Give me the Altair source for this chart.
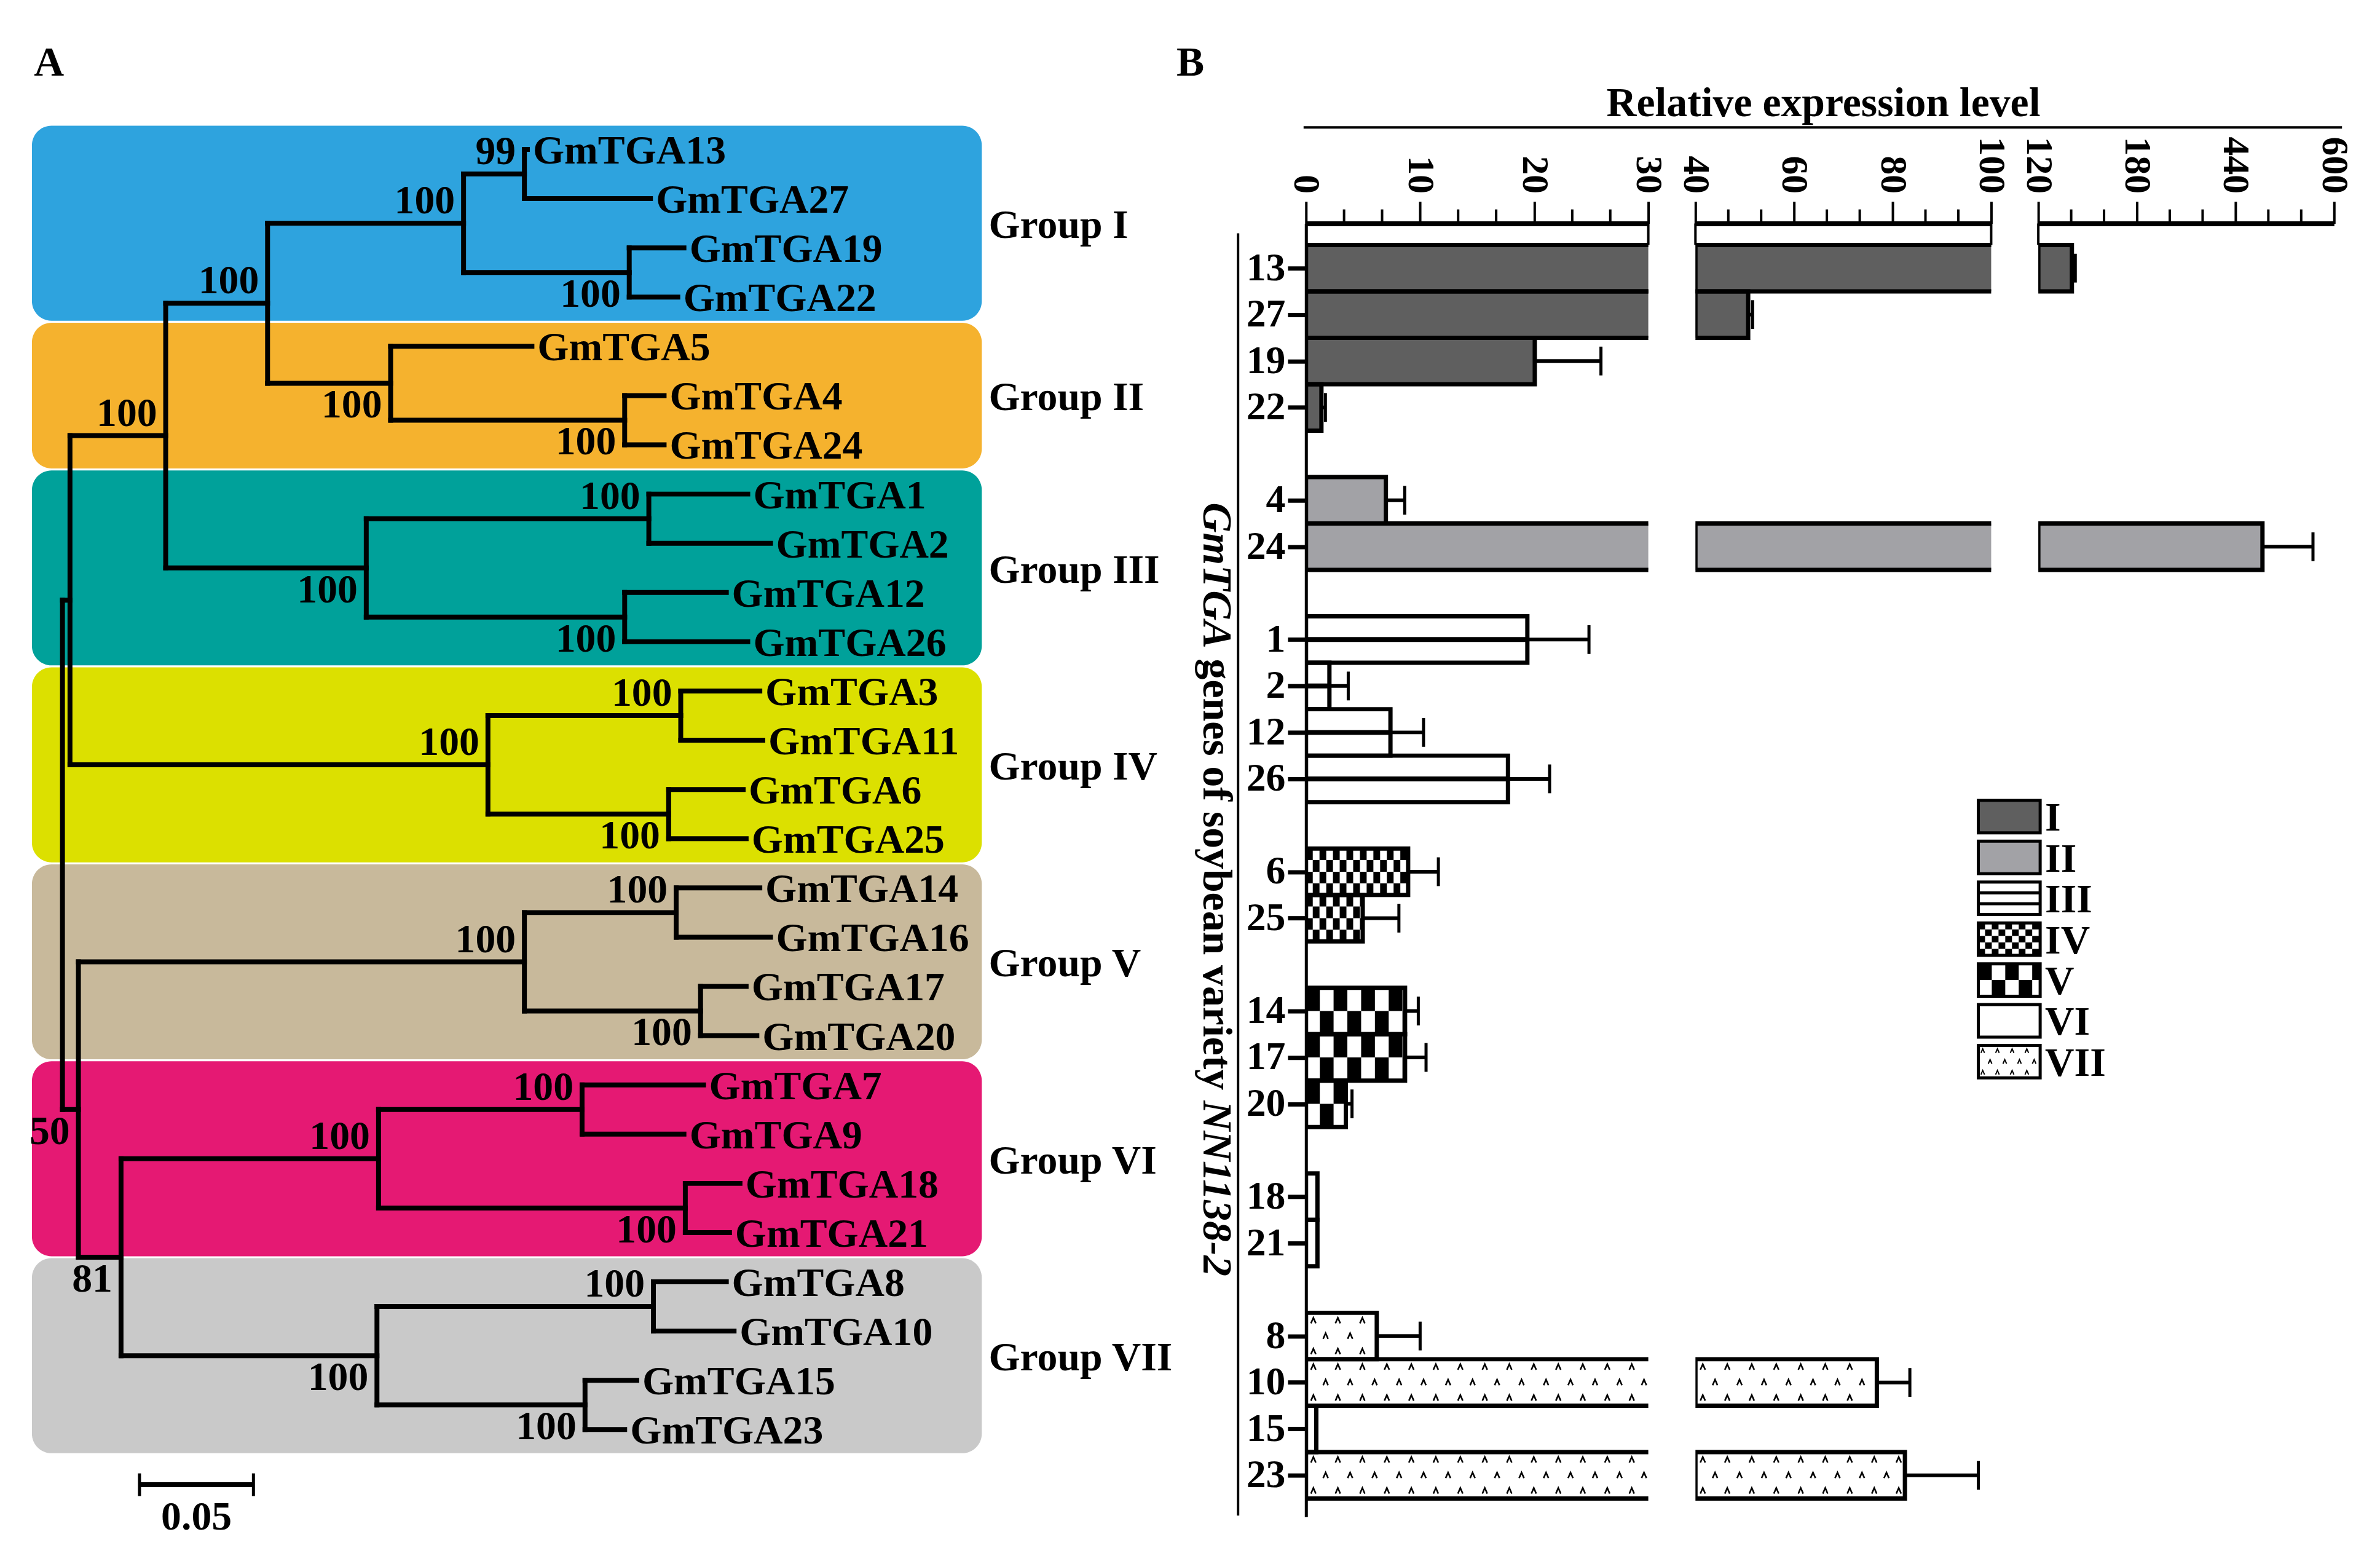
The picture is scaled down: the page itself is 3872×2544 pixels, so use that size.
import pandas as pd
import altair as alt

FONT = "Liberation Serif"

# ======================= Panel A : phylogenetic tree =======================
LEAVES = ["GmTGA13", "GmTGA27", "GmTGA19", "GmTGA22", "GmTGA5", "GmTGA4", "GmTGA24",
          "GmTGA1", "GmTGA2", "GmTGA12", "GmTGA26", "GmTGA3", "GmTGA11", "GmTGA6",
          "GmTGA25", "GmTGA14", "GmTGA16", "GmTGA17", "GmTGA20", "GmTGA7", "GmTGA9",
          "GmTGA18", "GmTGA21", "GmTGA8", "GmTGA10", "GmTGA15", "GmTGA23"]
LEAF_DEPTH = [0.2040, 0.2580, 0.2727, 0.2700, 0.2060, 0.2640, 0.2640,
              0.3007, 0.3107, 0.2913, 0.3007, 0.3060, 0.3073, 0.2987,
              0.3000, 0.3060, 0.3107, 0.3000, 0.3047, 0.2813, 0.2727,
              0.2973, 0.2927, 0.2913, 0.2947, 0.2520, 0.2467]
NODES = ["n13_27", "n19_22", "nI", "n4_24", "nII", "nI_II", "n1_2", "n12_26", "nIII",
         "nI_III", "n3_11", "n6_25", "nIV", "nI_IV", "n14_16", "n17_20", "nV", "n7_9",
         "n18_21", "nVI", "n8_10", "n15_23", "nVII", "nVI_VII", "nV_VII", "root"]
NODE_CHILDREN = [("GmTGA13", "GmTGA27"), ("GmTGA19", "GmTGA22"), ("n13_27", "n19_22"),
                 ("GmTGA4", "GmTGA24"), ("GmTGA5", "n4_24"), ("nI", "nII"),
                 ("GmTGA1", "GmTGA2"), ("GmTGA12", "GmTGA26"), ("n1_2", "n12_26"),
                 ("nI_II", "nIII"), ("GmTGA3", "GmTGA11"), ("GmTGA6", "GmTGA25"),
                 ("n3_11", "n6_25"), ("nI_III", "nIV"), ("GmTGA14", "GmTGA16"),
                 ("GmTGA17", "GmTGA20"), ("n14_16", "n17_20"), ("GmTGA7", "GmTGA9"),
                 ("GmTGA18", "GmTGA21"), ("n7_9", "n18_21"), ("GmTGA8", "GmTGA10"),
                 ("GmTGA15", "GmTGA23"), ("n8_10", "n15_23"), ("nVI", "nVII"),
                 ("nV", "nVI_VII"), ("nI_IV", "nV_VII")]
NODE_DEPTH = [0.2027, 0.2487, 0.1760, 0.2467, 0.1440, 0.0900, 0.2573, 0.2467, 0.1333,
              0.0453, 0.2713, 0.2660, 0.1867, 0.0033, 0.2693, 0.2800, 0.2027, 0.2280,
              0.2733, 0.1387, 0.2593, 0.2293, 0.1380, 0.0257, 0.0070, 0.0]
NODE_BOOT = ["99", "100", "100", "100", "100", "100", "100", "100", "100",
             "100", "100", "100", "100", "", "100", "100", "100", "100",
             "100", "100", "100", "100", "100", "81", "50", ""]
NODE_SIDE = ["above", "below", "above", "below", "below", "above", "above", "below", "below",
             "above", "above", "below", "above", "", "above", "below", "above", "above",
             "below", "above", "above", "below", "below", "below", "below", ""]
GROUP_LABELS = ["Group I", "Group II", "Group III", "Group IV", "Group V", "Group VI", "Group VII"]
GROUP_FIRST = ["GmTGA13", "GmTGA5", "GmTGA1", "GmTGA3", "GmTGA14", "GmTGA7", "GmTGA8"]
GROUP_LAST = ["GmTGA22", "GmTGA24", "GmTGA26", "GmTGA25", "GmTGA20", "GmTGA21", "GmTGA23"]
GROUP_COLORS = ["#2ea3de", "#f5b22e", "#00a19a", "#dce000", "#c8b99b", "#e51973", "#c9c9c9"]
SCALE_BAR_LEN = 0.05
SCALE_BAR_TEXT = "0.05"

# ======================= Panel B : expression bars =======================
GENES = ["13", "27", "19", "22", "4", "24", "1", "2", "12", "26", "6", "25",
         "14", "17", "20", "18", "21", "8", "10", "15", "23"]
GENE_GROUP = ["I", "I", "I", "I", "II", "II", "III", "III", "III", "III", "IV", "IV",
              "V", "V", "V", "VI", "VI", "VII", "VII", "VII", "VII"]
EXPR = [174.5, 50.7, 20.05, 1.35, 7.0, 483.8, 19.4, 2.05, 7.4, 17.7, 8.95, 4.97,
        8.68, 8.68, 3.49, 1.0, 1.0, 6.2, 76.8, 0.9, 82.5]
SD = [5.5, 0.9, 5.8, 0.35, 1.65, 82.0, 5.4, 1.65, 2.9, 3.65, 2.65, 3.17,
      1.16, 1.84, 0.54, 0.0, 0.0, 3.8, 6.7, 0.0, 14.9]
ROMAN = ["I", "II", "III", "IV", "V", "VI", "VII"]
BAR_FILLS = ["#5f5f5f", "#a2a2a6", "#ffffff", "#ffffff", "#ffffff", "#ffffff", "#ffffff"]
SEG_LO = [0, 40, 120]
SEG_HI = [30, 100, 600]
SEG_MAJOR = [[0, 10, 20, 30], [40, 60, 80, 100], [120, 280, 440, 600]]
SEG_MAJOR_TEXT = [["0", "10", "20", "30"], ["40", "60", "80", "100"], ["120", "180", "440", "600"]]
X_TITLE = "Relative expression level"
Y_TITLE_PARTS = ["GmTGA", "genes of soybean variety", "NN1138-2"]

# ======================= layout / style constants =======================
A_W, A_H = 1955, 2520
A_XDOM = [-0.02525, 0.5]
A_YDOM = [-2.873, 28.47]
BOX_X = [-0.0134, 0.4034]
BOX_GAP = 0.02
GROUP_LABEL_X = 0.4064
SB_X0, SB_Y = 0.0338, 27.12

HEADER_W, HEADER_H, HEADER_GAP = 1679, 300, 52
SEG_W = [559, 483, 483]
SEG_H = 2112
SEG_SPACING = 77
AB_SPACING = 170
PAD_TOP, PAD_BOT = 0.462, 0.396
PAGE_OFF = 8
SEG_TOP_PAGE = PAGE_OFF + HEADER_H + HEADER_GAP
SEG_LEFT_PAGE = [PAGE_OFF + A_W + AB_SPACING]
SEG_LEFT_PAGE.append(SEG_LEFT_PAGE[0] + SEG_W[0] + SEG_SPACING)
SEG_LEFT_PAGE.append(SEG_LEFT_PAGE[1] + SEG_W[1] + SEG_SPACING)
FILL_OF = dict(zip(ROMAN, BAR_FILLS))
BOX_FILL_OF = dict(zip(GROUP_LABELS, GROUP_COLORS))

# ---------------------------------------------------------------- tree geometry
ypos = {n: float(i) for i, n in enumerate(LEAVES)}
depth = dict(zip(LEAVES, LEAF_DEPTH))
parent = {}
for n, ch, d in zip(NODES, NODE_CHILDREN, NODE_DEPTH):
    ypos[n] = (ypos[ch[0]] + ypos[ch[1]]) / 2
    depth[n] = d
    for c in ch:
        parent[c] = n

tree_segs = []
for n, p in parent.items():
    tree_segs.append(dict(x=depth[p], x2=depth[n], y=ypos[n], y2=ypos[n]))
for n, ch in zip(NODES, NODE_CHILDREN):
    tree_segs.append(dict(x=depth[n], x2=depth[n], y=ypos[ch[0]], y2=ypos[ch[1]]))
tree_df = pd.DataFrame(tree_segs)

leaf_df = pd.DataFrame(dict(name=LEAVES, x=LEAF_DEPTH, y=[ypos[n] for n in LEAVES]))
boot_df = pd.DataFrame(dict(t=NODE_BOOT, side=NODE_SIDE, x=NODE_DEPTH, y=[ypos[n] for n in NODES]))
boot_df = boot_df[boot_df.t != ""]

box_df = pd.DataFrame([dict(group=g, col=BOX_FILL_OF[g], x0=BOX_X[0], x1=BOX_X[1],
                            y0=ypos[f] - 0.5 + BOX_GAP, y1=ypos[l] + 0.5 - BOX_GAP,
                            ym=(ypos[f] + ypos[l]) / 2, lx=GROUP_LABEL_X)
                       for g, f, l in zip(GROUP_LABELS, GROUP_FIRST, GROUP_LAST)])

XA = alt.Scale(domain=A_XDOM, nice=False, zero=False)
YA = alt.Scale(domain=A_YDOM, nice=False, zero=False, reverse=True)


def AX(f):
    return alt.X(f, type="quantitative", scale=XA, axis=None)


def AY(f):
    return alt.Y(f, type="quantitative", scale=YA, axis=None)


txt = dict(font=FONT, fontWeight="bold", color="black")

a_layers = [
    alt.Chart(box_df).mark_rect(cornerRadius=32).encode(
        x=AX("x0"), x2="x1:Q", y=AY("y0"), y2="y1:Q",
        fill=alt.Fill("col:N", scale=None)),
    alt.Chart(tree_df).mark_rule(color="black", strokeWidth=8, strokeCap="square").encode(
        x=AX("x"), x2="x2:Q", y=AY("y"), y2="y2:Q"),
    alt.Chart(leaf_df).mark_text(align="left", baseline="middle", dx=9, dy=3, fontSize=66, **txt).encode(
        x=AX("x"), y=AY("y"), text="name:N"),
    alt.Chart(boot_df[boot_df.side == "above"]).mark_text(
        align="right", baseline="alphabetic", dx=-14, dy=-16, fontSize=66, **txt).encode(
        x=AX("x"), y=AY("y"), text="t:N"),
    alt.Chart(boot_df[boot_df.side == "below"]).mark_text(
        align="right", baseline="alphabetic", dx=-14, dy=56, fontSize=66, **txt).encode(
        x=AX("x"), y=AY("y"), text="t:N"),
    alt.Chart(box_df).mark_text(align="left", baseline="middle", dy=4, fontSize=66, **txt).encode(
        x=AX("lx"), y=AY("ym"), text="group:N"),
]

sb_df = pd.DataFrame([dict(x0=SB_X0, x1=SB_X0 + SCALE_BAR_LEN, y=SB_Y,
                           xm=SB_X0 + SCALE_BAR_LEN / 2, yt=SB_Y + 0.91, t=SCALE_BAR_TEXT)])
sb_end_df = pd.DataFrame(dict(x=[SB_X0, SB_X0 + SCALE_BAR_LEN], ya=[SB_Y - 0.23] * 2, yb=[SB_Y + 0.23] * 2))
a_layers += [
    alt.Chart(sb_df).mark_rule(color="black", strokeWidth=8).encode(x=AX("x0"), x2="x1:Q", y=AY("y")),
    alt.Chart(sb_end_df).mark_rule(color="black", strokeWidth=5).encode(x=AX("x"), y=AY("ya"), y2="yb:Q"),
    alt.Chart(sb_df).mark_text(align="center", baseline="alphabetic", fontSize=66, **txt).encode(
        x=AX("xm"), y=AY("yt"), text="t:N"),
    alt.Chart(pd.DataFrame(dict(t=["A"]))).mark_text(align="center", baseline="alphabetic",
                                                     fontSize=68, **txt).encode(
        text="t:N", x=alt.value(72), y=alt.value(111)),
]
panel_a = alt.layer(*a_layers).properties(width=A_W, height=A_H)

# ---------------------------------------------------------------- bar geometry
gene_slot = []
prev = None
s = -1
for g in GENE_GROUP:
    s += 1 if (prev is None or g == prev) else 2
    gene_slot.append(s)
    prev = g
N_SLOTS = gene_slot[-1] + 1
Y_DOM = [-0.5 - PAD_TOP, N_SLOTS - 0.5 + PAD_BOT]
SLOT_PX = SEG_H / (Y_DOM[1] - Y_DOM[0])
FIRST_BAND_PX = (-0.5 - Y_DOM[0]) * SLOT_PX
slot_labels = [""] * N_SLOTS
for g, sl in zip(GENES, gene_slot):
    slot_labels[sl] = g
slot_label_expr = "[" + ",".join("'%s'" % t for t in slot_labels) + "][datum.value]"

bars = pd.DataFrame(dict(gene=GENES, group=GENE_GROUP, slot=gene_slot, expr=EXPR, sd=SD))
bars["col"] = [FILL_OF[g] for g in GENE_GROUP]


def checker(x_lo, x_hi, y_top, y_bot, cw, nrows):
    out = []
    ch = (y_bot - y_top) / nrows
    col, x = 0, x_lo
    while x < x_hi - 1e-9:
        x2 = min(x + cw, x_hi)
        for r in range(nrows):
            if (col + r) % 2 == 0:
                out.append(dict(x0=x, x1=x2, y0=y_top + r * ch, y1=y_top + (r + 1) * ch))
        x += cw
        col += 1
    return out


def chevrons(x_lo, x_hi, y_top, y_bot, sp, nrows):
    out = []
    rh = (y_bot - y_top) / nrows
    for r in range(nrows):
        x = x_lo + (sp * 0.3 if r % 2 == 0 else sp * 0.8)
        while x < x_hi - sp * 0.15:
            out.append(dict(x=x, y=y_top + (r + 0.5) * rh))
            x += sp
    return out


CHEVRON = "M-0.7,0.8L0,-0.8L0.7,0.8"
Y_AXIS = alt.Axis(values=gene_slot, labelExpr=slot_label_expr, title=None, grid=False, orient="left",
                  domain=True, domainWidth=5, domainColor="black", ticks=True, tickSize=30,
                  tickWidth=7, tickColor="black", labelFont=FONT, labelFontSize=64,
                  labelFontWeight="bold", labelColor="black", labelPadding=4,
                  labelFlush=False, labelOverlap=False)

TNR_B = {' ': 250, 'g': 500, 'e': 444, 'n': 556, 's': 389, 'o': 500, 'f': 333, 'y': 500,
         'b': 556, 'a': 500, 'v': 500, 'r': 444, 'i': 278, 't': 333}
TNR_BI = {'G': 722, 'm': 778, 'T': 611, 'A': 667, 'N': 722, '1': 500, '3': 500, '8': 500,
          '-': 333, '2': 500}


def tw(sx, table, size):
    return sum(table[c] for c in sx) / 1000.0 * size


def build_segment(i):
    lo, hi, W = SEG_LO[i], SEG_HI[i], SEG_W[i]
    ppu = W / (hi - lo)
    xs = alt.Scale(domain=[lo, hi], nice=False, zero=False)
    ys = alt.Scale(domain=Y_DOM, nice=False, zero=False, reverse=True)
    lab_map = "({" + ",".join("'%s':'%s'" % (v, t) for v, t in zip(SEG_MAJOR[i], SEG_MAJOR_TEXT[i])) + "})"
    xaxis = alt.Axis(orient="top", values=SEG_MAJOR[i], labelExpr=lab_map + "[datum.value]", title=None,
                     grid=False, labelAngle=90, labelAlign="right", labelBaseline="middle",
                     labelFont=FONT, labelFontSize=62, labelFontWeight="bold", labelColor="black",
                     labelPadding=13, labelFlush=False, labelOverlap=False, tickSize=36,
                     tickWidth=4, tickColor="black", domainWidth=8, domainColor="black")
    yaxis = Y_AXIS if i == 0 else None

    def X(f):
        return alt.X(f, type="quantitative", scale=xs, axis=xaxis)

    def Y(f):
        return alt.Y(f, type="quantitative", scale=ys, axis=yaxis)

    fill_enc = alt.Fill("col:N", scale=None)

    sub = bars[bars.expr > lo].copy()
    sub["x0"] = lo
    sub["y0"] = sub.slot - 0.5
    sub["y1"] = sub.slot + 0.5

    cells, pts, stripes = [], [], []
    for _, r in sub.iterrows():
        x_hi = min(r.expr, hi)
        if r.group == "IV":
            cells += checker(lo, x_hi, r.slot - 0.5, r.slot + 0.5, 11.0 / ppu, 4)
        elif r.group == "V":
            cells += checker(lo, x_hi, r.slot - 0.5, r.slot + 0.5, 22.5 / ppu, 2)
        elif r.group == "VII":
            pts += chevrons(lo, x_hi, r.slot - 0.5, r.slot + 0.5, 40.0 / ppu, 3)
        elif r.group == "III":
            stripes.append(dict(x0=lo, x1=r.expr, y=r.slot))

    layers = [
        alt.Chart(sub).mark_rect(clip=True, strokeWidth=0).encode(
            x=X("x0"), x2="expr:Q", y=Y("y0"), y2="y1:Q", fill=fill_enc),
    ]
    if cells:
        layers.append(alt.Chart(pd.DataFrame(cells)).mark_rect(clip=True, color="black", strokeWidth=0).encode(
            x=X("x0"), x2="x1:Q", y=Y("y0"), y2="y1:Q"))
    if stripes:
        layers.append(alt.Chart(pd.DataFrame(stripes)).mark_rule(clip=True, color="black", strokeWidth=8).encode(
            x=X("x0"), x2="x1:Q", y=Y("y")))
    if pts:
        layers.append(alt.Chart(pd.DataFrame(pts)).mark_point(
            clip=True, shape=CHEVRON, filled=False, stroke="black", strokeWidth=2.6, size=130, opacity=1).encode(
            x=X("x"), y=Y("y")))
    layers.append(alt.Chart(sub).mark_rect(clip=True, fillOpacity=0, stroke="black", strokeWidth=7).encode(
        x=X("x0"), x2="expr:Q", y=Y("y0"), y2="y1:Q"))

    err = bars[(bars.sd > 0) & (bars.expr + bars.sd > lo) & (bars.expr < hi)].copy()
    if len(err):
        err["e0"] = err.expr.clip(lower=lo)
        err["e1"] = err.expr + err.sd
        layers.append(alt.Chart(err).mark_rule(clip=True, color="black", strokeWidth=6).encode(
            x=X("e0"), x2="e1:Q", y=Y("slot")))
    cap = bars[(bars.sd > 0) & (bars.expr + bars.sd >= lo) & (bars.expr + bars.sd <= hi)].copy()
    if len(cap):
        cap["e1"] = cap.expr + cap.sd
        cap["c0"] = cap.slot - 0.31
        cap["c1"] = cap.slot + 0.31
        layers.append(alt.Chart(cap).mark_rule(color="black", strokeWidth=5).encode(
            x=X("e1"), y=Y("c0"), y2="c1:Q"))

    # connectors from the broken axis down to the first bar
    conn = {0: [hi], 1: [lo, hi], 2: [lo]}[i]
    layers.append(alt.Chart(pd.DataFrame(dict(v=conn))).mark_rule(color="black", strokeWidth=4).encode(
        x=X("v"), y=alt.value(0), y2=alt.value(FIRST_BAND_PX)))
    # minor ticks
    step = (SEG_MAJOR[i][1] - SEG_MAJOR[i][0]) / 3.0
    minor = [SEG_MAJOR[i][0] + k * step for k in range(1, 9) if k % 3 != 0]
    layers.append(alt.Chart(pd.DataFrame(dict(v=minor))).mark_rule(color="black", strokeWidth=4).encode(
        x=X("v"), y=alt.value(0), y2=alt.value(-23)))

    if i == 0:
        fs = 68
        w1 = tw(Y_TITLE_PARTS[0], TNR_BI, fs)
        w2 = tw(Y_TITLE_PARTS[1], TNR_B, fs)
        w3 = tw(Y_TITLE_PARTS[2], TNR_BI, fs)
        sp = 0.25 * fs
        total = w1 + sp + w2 + sp + w3
        center = (1449.5 - SEG_TOP_PAGE)
        y_start = center - total / 2
        x_base = 1966 - SEG_LEFT_PAGE[0]
        starts = [y_start, y_start + w1 + sp, y_start + w1 + sp + w2 + sp]
        styles = ["italic", "normal", "italic"]
        for part, ystart, st in zip(Y_TITLE_PARTS, starts, styles):
            layers.append(alt.Chart(pd.DataFrame(dict(t=[part]))).mark_text(
                angle=90, align="left", baseline="alphabetic", fontSize=fs, fontStyle=st, **txt).encode(
                text="t:N", x=alt.value(x_base), y=alt.value(ystart)))
        layers.append(alt.Chart(pd.DataFrame(dict(a=[0]))).mark_rule(color="black", strokeWidth=4).encode(
            x=alt.value(2022 - SEG_LEFT_PAGE[0]), y=alt.value(376 - SEG_TOP_PAGE),
            y2=alt.value(2470 - SEG_TOP_PAGE)))

    if i == 1:
        def px_x(page_x):
            return lo + (page_x - SEG_LEFT_PAGE[1]) / ppu

        def px_y(page_y):
            return Y_DOM[0] + (page_y - SEG_TOP_PAGE) / SLOT_PX

        lx0, lx1, ltx = px_x(3231), px_x(3332), px_x(3340)
        leg, lcells, lpts, lstr = [], [], [], []
        for k, g in enumerate(ROMAN):
            top = px_y(1302 + k * 66.7)
            bot = px_y(1302 + k * 66.7 + 53)
            leg.append(dict(group=g, col=FILL_OF[g], x0=lx0, x1=lx1, y0=top, y1=bot,
                            ym=(top + bot) / 2, tx=ltx))
            if g == "III":
                lstr += [dict(x0=lx0, x1=lx1, y=top + (bot - top) / 3),
                         dict(x0=lx0, x1=lx1, y=top + 2 * (bot - top) / 3)]
            elif g == "IV":
                lcells += checker(lx0, lx1, top, bot, 11.0 / ppu, 5)
            elif g == "V":
                lcells += checker(lx0, lx1, top, bot, 22.0 / ppu, 2)
            elif g == "VII":
                lpts += chevrons(lx0, lx1, top, bot, 24.0 / ppu, 3)
        leg = pd.DataFrame(leg)
        layers += [
            alt.Chart(leg).mark_rect(strokeWidth=0).encode(
                x=X("x0"), x2="x1:Q", y=Y("y0"), y2="y1:Q", fill=fill_enc),
            alt.Chart(pd.DataFrame(lcells)).mark_rect(color="black", strokeWidth=0).encode(
                x=X("x0"), x2="x1:Q", y=Y("y0"), y2="y1:Q"),
            alt.Chart(pd.DataFrame(lstr)).mark_rule(color="black", strokeWidth=5).encode(
                x=X("x0"), x2="x1:Q", y=Y("y")),
            alt.Chart(pd.DataFrame(lpts)).mark_point(
                shape=CHEVRON, filled=False, stroke="black", strokeWidth=2, size=70, opacity=1).encode(
                x=X("x"), y=Y("y")),
            alt.Chart(leg).mark_rect(fillOpacity=0, stroke="black", strokeWidth=5).encode(
                x=X("x0"), x2="x1:Q", y=Y("y0"), y2="y1:Q"),
            alt.Chart(leg).mark_text(align="left", baseline="middle", dy=3, fontSize=66, **txt).encode(
                x=X("tx"), y=Y("ym"), text="group:N"),
        ]
    return alt.layer(*layers).properties(width=W, height=SEG_H)


seg_charts = [build_segment(i) for i in range(3)]

header = alt.layer(
    alt.Chart(pd.DataFrame(dict(t=[X_TITLE]))).mark_text(
        align="center", baseline="alphabetic", fontSize=68, **txt).encode(
        text="t:N", x=alt.value(2978 - SEG_LEFT_PAGE[0]), y=alt.value(185 - PAGE_OFF)),
    alt.Chart(pd.DataFrame(dict(t=["B"]))).mark_text(
        align="center", baseline="alphabetic", fontSize=68, **txt).encode(
        text="t:N", x=alt.value(1944 - SEG_LEFT_PAGE[0]), y=alt.value(119 - PAGE_OFF)),
    alt.Chart(pd.DataFrame(dict(a=[0]))).mark_rule(color="black", strokeWidth=4).encode(
        x=alt.value(-4), x2=alt.value(3825 - SEG_LEFT_PAGE[0]), y=alt.value(203 - PAGE_OFF)),
).properties(width=HEADER_W, height=HEADER_H)

segs_row = alt.hconcat(*seg_charts, spacing=SEG_SPACING, bounds="flush")
panel_b = alt.vconcat(header, segs_row, spacing=HEADER_GAP, bounds="flush")

chart = alt.hconcat(panel_a, panel_b, spacing=AB_SPACING, bounds="flush").properties(
    padding={"left": 0, "top": 0, "right": 36, "bottom": 8}).configure_view(strokeWidth=0)

chart.save("out.html", embed_options={"renderer": "svg", "actions": False})
